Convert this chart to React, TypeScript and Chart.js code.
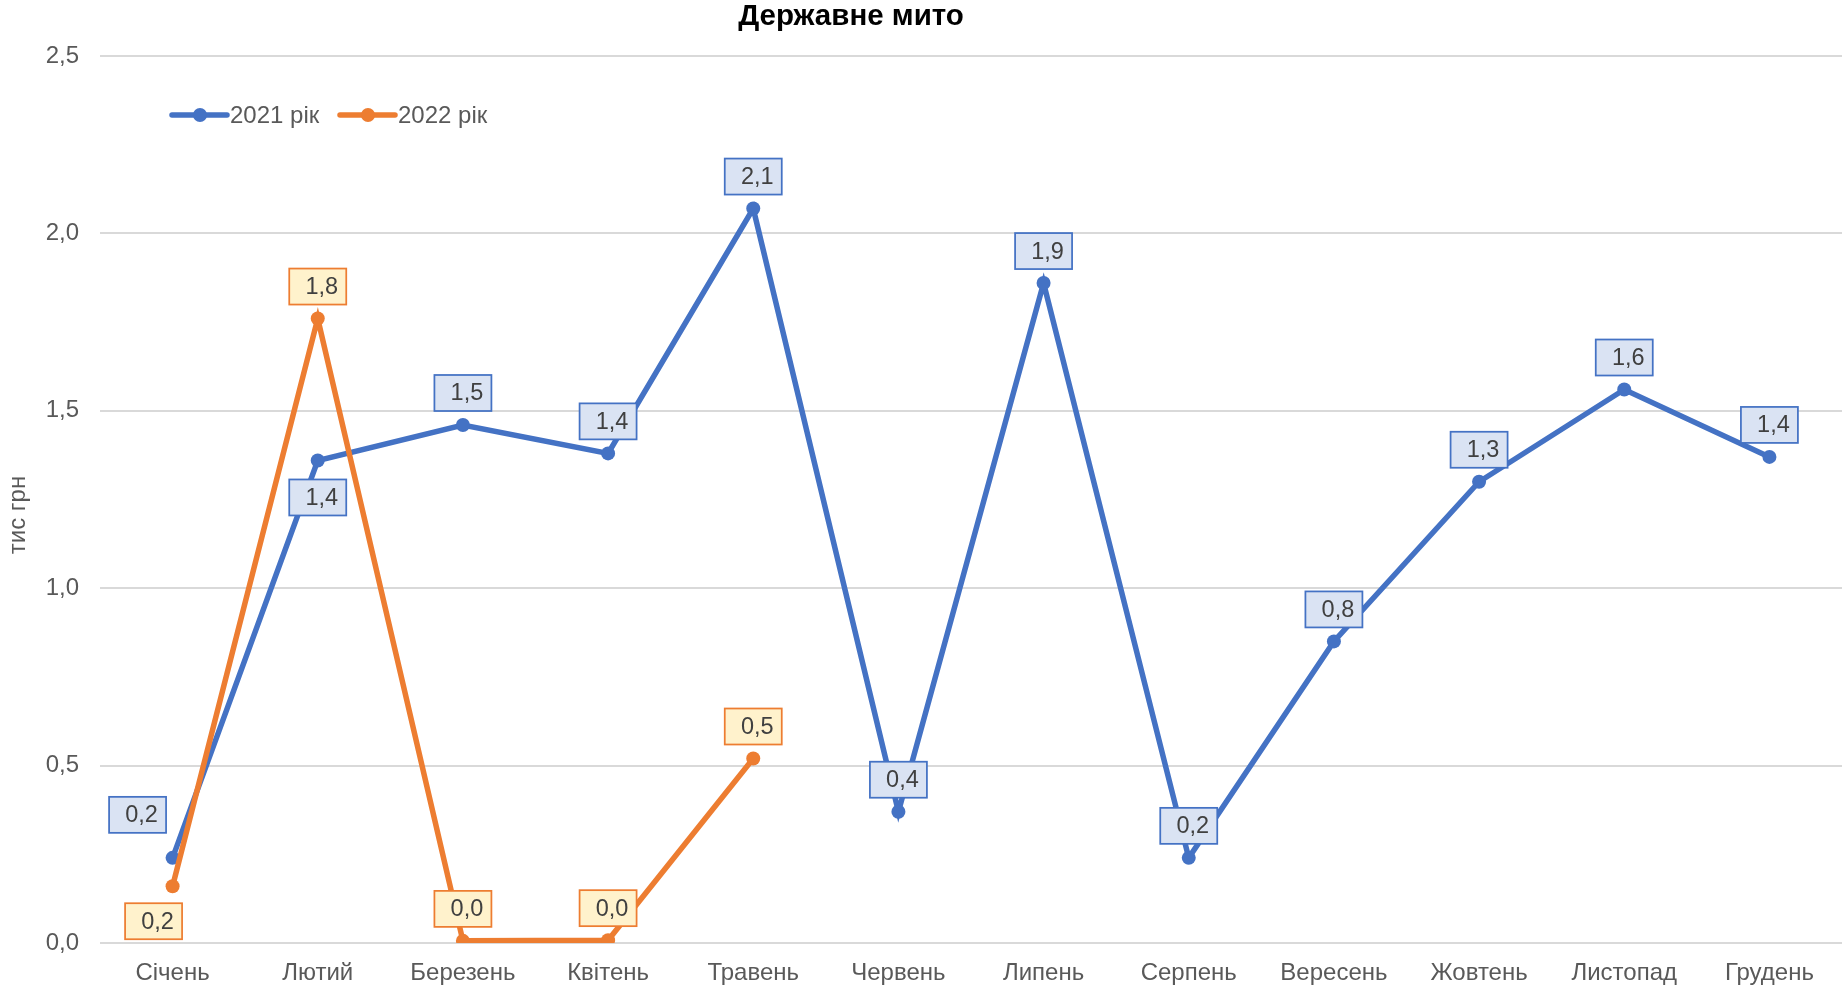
import React, { useEffect, useRef } from "react";
import { Chart, registerables } from "chart.js";

Chart.register(...registerables);

const FONT = '"Liberation Sans", Arial, Helvetica, sans-serif';

const chartTitle = "Державне мито";
const yAxisTitle = "тис грн";
const months = [
  "Січень",
  "Лютий",
  "Березень",
  "Квітень",
  "Травень",
  "Червень",
  "Липень",
  "Серпень",
  "Вересень",
  "Жовтень",
  "Листопад",
  "Грудень",
];
const seriesNames = ["2021 рік", "2022 рік"];
const values2021 = [0.24, 1.36, 1.46, 1.38, 2.07, 0.37, 1.86, 0.24, 0.85, 1.3, 1.56, 1.37];
const values2022 = [0.16, 1.76, 0.006, 0.008, 0.52];
const yTickValues = [0, 0.5, 1, 1.5, 2, 2.5];

// label placement (style only)
const labelPlacement2021 = [
  "upLeft", "below", "above", "above", "above", "above",
  "above", "above", "above", "above", "above", "above",
];
const labelPlacement2022 = ["downLeft", "above", "above", "above", "above"];

const BLUE = "#4472C4";
const ORANGE = "#ED7D31";
const BLUE_FILL = "#DAE3F3";
const ORANGE_FILL = "#FFF2CC";

const fmt = (v: number) => v.toFixed(1).replace(".", ",");

const boxLabelPlugin = {
  id: "boxLabels",
  afterDatasetsDraw(chart: any) {
    const ctx = chart.ctx;
    [0, 1].forEach((di) => {
      const ds: any = chart.data.datasets[di];
      const meta = chart.getDatasetMeta(di);
      meta.data.forEach((pt: any, i: number) => {
        const v = ds.data[i];
        if (v == null) return;
        const w = 57;
        const h = 36;
        let cx = pt.x;
        let top = pt.y - 14 - h;
        switch (ds.labelPlacement[i]) {
          case "below":
            top = pt.y + 19;
            break;
          case "upLeft":
            cx = pt.x - 35;
            top = pt.y - 25 - h;
            break;
          case "downLeft":
            cx = pt.x - 19;
            top = pt.y + 17;
            break;
        }
        ctx.save();
        ctx.fillStyle = ds.labelFill;
        ctx.strokeStyle = ds.borderColor;
        ctx.lineWidth = 1.75;
        ctx.fillRect(cx - w / 2, top, w, h);
        ctx.strokeRect(cx - w / 2, top, w, h);
        ctx.fillStyle = "#404040";
        ctx.font = `23.5px ${FONT}`;
        ctx.textAlign = "center";
        ctx.textBaseline = "middle";
        ctx.fillText(fmt(v), cx + 4, top + h / 2 + 1);
        ctx.restore();
      });
    });
  },
};

const overlayPlugin = {
  id: "overlay",
  afterDraw(chart: any) {
    const ctx = chart.ctx;
    ctx.save();
    // title
    ctx.fillStyle = "#000000";
    ctx.font = `bold 29.5px ${FONT}`;
    ctx.textAlign = "center";
    ctx.textBaseline = "middle";
    ctx.fillText(chartTitle, 851, 17);

    // y axis title
    ctx.save();
    ctx.translate(18, 515);
    ctx.rotate(-Math.PI / 2);
    ctx.fillStyle = "#595959";
    ctx.font = `24px ${FONT}`;
    ctx.textAlign = "center";
    ctx.textBaseline = "middle";
    ctx.fillText(yAxisTitle, 0, 0);
    ctx.restore();

    // legend
    const items = [
      { x: 172, color: BLUE, text: seriesNames[0] },
      { x: 340, color: ORANGE, text: seriesNames[1] },
    ];
    const ly = 115;
    items.forEach((it) => {
      ctx.strokeStyle = it.color;
      ctx.lineWidth = 5.5;
      ctx.lineCap = "round";
      ctx.beginPath();
      ctx.moveTo(it.x, ly);
      ctx.lineTo(it.x + 55, ly);
      ctx.stroke();
      ctx.fillStyle = it.color;
      ctx.beginPath();
      ctx.arc(it.x + 28, ly, 7, 0, Math.PI * 2);
      ctx.fill();
      ctx.fillStyle = "#595959";
      ctx.font = `24px ${FONT}`;
      ctx.textAlign = "left";
      ctx.textBaseline = "middle";
      ctx.fillText(it.text, it.x + 58, ly + 1);
    });
    ctx.restore();
  },
};

export default function App() {
  const canvasRef = useRef<HTMLCanvasElement | null>(null);

  useEffect(() => {
    if (!canvasRef.current) return;
    const chart = new Chart(canvasRef.current, {
      type: "line",
      data: {
        labels: months,
        datasets: [
          {
            label: seriesNames[0],
            data: values2021,
            borderColor: BLUE,
            backgroundColor: BLUE,
            borderWidth: 5.5,
            pointRadius: 7,
            pointBackgroundColor: BLUE,
            pointBorderWidth: 0,
            tension: 0,
            order: 1,
            labelPlacement: labelPlacement2021,
            labelFill: BLUE_FILL,
          } as any,
          {
            label: seriesNames[1],
            data: values2022,
            borderColor: ORANGE,
            backgroundColor: ORANGE,
            borderWidth: 5.5,
            pointRadius: 7,
            pointBackgroundColor: ORANGE,
            pointBorderWidth: 0,
            tension: 0,
            order: 0,
            labelPlacement: labelPlacement2022,
            labelFill: ORANGE_FILL,
          } as any,
        ],
      },
      options: {
        animation: false,
        responsive: false,
        maintainAspectRatio: false,
        devicePixelRatio: 1,
        layout: { autoPadding: false, padding: { top: 56, left: 0, right: 0, bottom: 0 } },
        plugins: {
          legend: { display: false },
          title: { display: false },
          tooltip: { enabled: false },
        },
        scales: {
          x: {
            offset: true,
            grid: { display: false, drawTicks: false },
            border: { display: false },
            ticks: {
              font: { family: FONT, size: 24 },
              color: "#595959",
              padding: 16,
              autoSkip: false,
              maxRotation: 0,
            },
            afterFit(s: any) {
              s.height = 45;
              s.paddingLeft = 0;
              s.paddingRight = 0;
            },
          },
          y: {
            min: 0,
            max: 2.5,
            afterBuildTicks(s: any) {
              s.ticks = yTickValues.map((v) => ({ value: v }));
            },
            ticks: {
              callback: (v: any) => fmt(Number(v)),
              padding: 21,
              font: { family: FONT, size: 24 },
              color: "#595959",
            },
            grid: { color: "#D9D9D9", lineWidth: 2, drawTicks: false },
            border: { display: false },
            afterFit(s: any) {
              s.width = 100;
            },
          },
        },
      },
      plugins: [boxLabelPlugin, overlayPlugin],
    });
    return () => chart.destroy();
  }, []);

  return (
    <div style={{ position: "fixed", left: 0, top: 0, width: 1842, height: 988, background: "#fff" }}>
      <canvas ref={canvasRef} width={1842} height={988} style={{ display: "block" }} />
    </div>
  );
}
